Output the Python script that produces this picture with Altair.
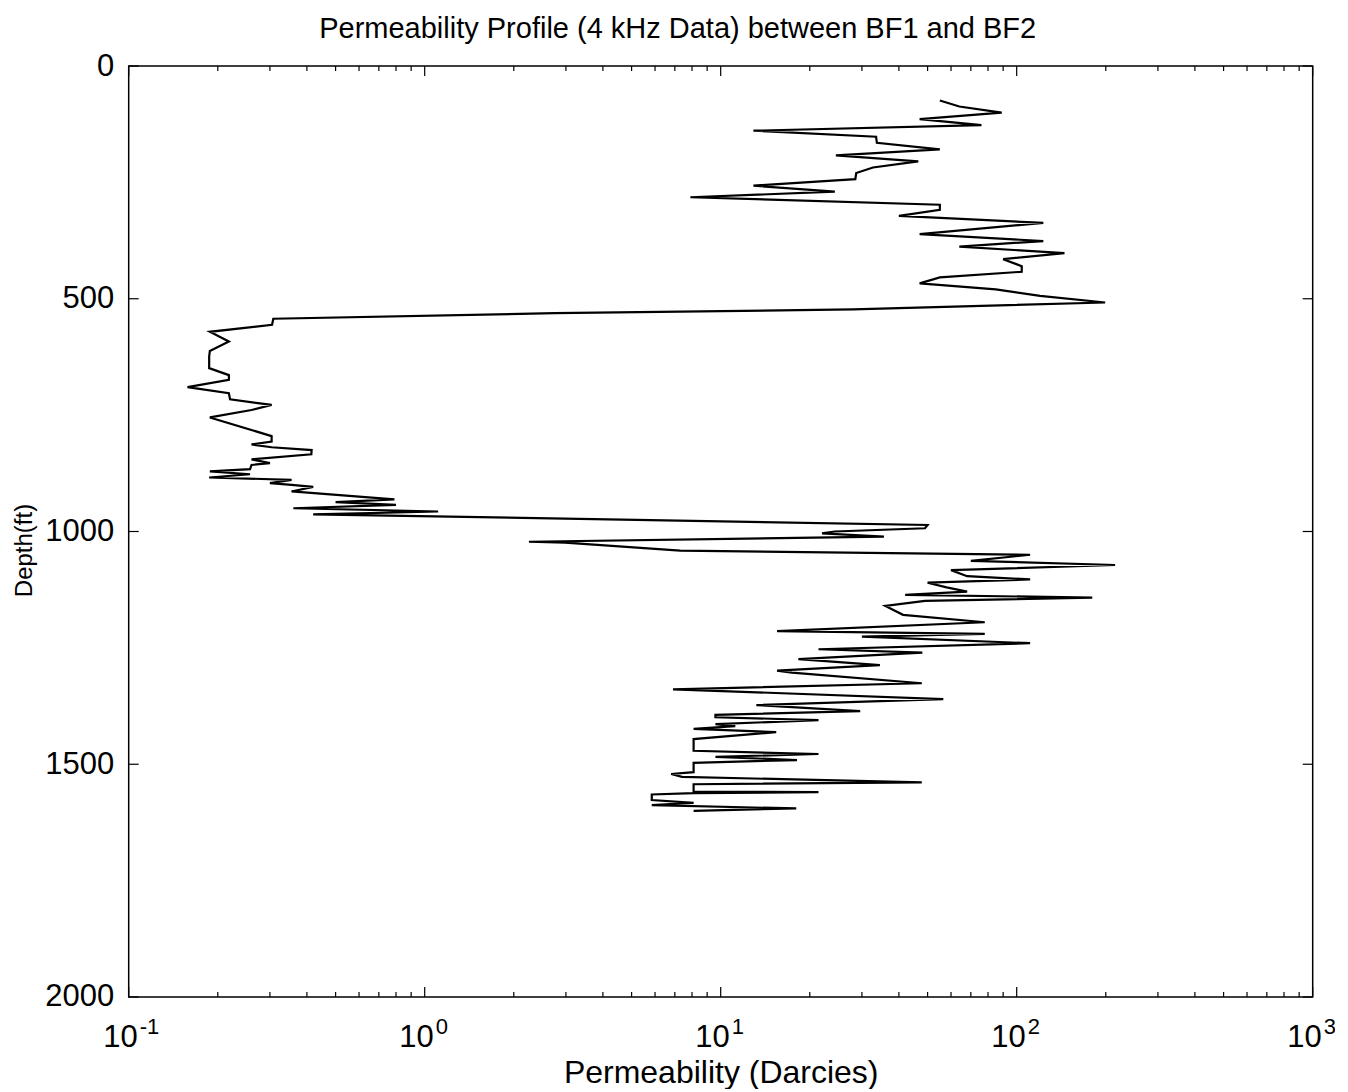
import altair as alt
import pandas as pd

# depth (ft) and permeability (Darcies), top to bottom
depth = [74, 87, 100, 114, 127, 139, 152, 165, 179, 192,
         205, 218, 230, 243, 257, 270, 282, 298, 309, 322,
         337, 361, 376, 388, 402, 415, 430, 442, 454, 467,
         480, 494, 508, 523, 531, 543, 556, 571, 592, 612,
         624, 649, 664, 674, 690, 703, 716, 728, 739, 755,
         795, 807, 813, 819, 825, 834, 845, 853, 857, 866,
         871, 877, 884, 889, 896, 900, 904, 914, 931, 937,
         943, 950, 957, 963, 986, 993, 1000, 1004, 1011, 1022,
         1024, 1041, 1050, 1063, 1072, 1083, 1096, 1103, 1110, 1120,
         1129, 1136, 1142, 1149, 1160, 1179, 1195, 1214, 1220, 1226,
         1240, 1253, 1260, 1274, 1287, 1299, 1303, 1326, 1339, 1360,
         1373, 1386, 1394, 1399, 1405, 1414, 1418, 1424, 1431, 1446,
         1471, 1478, 1484, 1491, 1497, 1517, 1521, 1527, 1539, 1543,
         1559, 1560, 1562, 1565, 1577, 1583, 1588, 1595, 1600]

perm = [55, 64, 89, 47, 76, 12.9, 33.5, 33.7, 55, 24.5,
        46.5, 32.7, 28.7, 28.5, 12.9, 24.3, 7.9, 55, 55, 40,
        123, 47, 123, 64, 145, 90, 104, 104, 55, 47,
        85, 120, 199, 28, 2.75, 0.308, 0.305, 0.188, 0.218, 0.188,
        0.187, 0.187, 0.218, 0.218, 0.158, 0.218, 0.220, 0.304, 0.26, 0.188,
        0.304, 0.304, 0.26, 0.304, 0.415, 0.414, 0.26, 0.30, 0.26, 0.257,
        0.188, 0.257, 0.187, 0.355, 0.30, 0.355, 0.42, 0.355, 0.79, 0.50,
        0.80, 0.36, 1.11, 0.42, 50, 49, 24.3, 22, 35.6, 2.25,
        2.98, 7.3, 111, 70, 215, 60, 68, 111, 50, 58,
        68, 42, 180, 49, 36, 41.3, 78, 15.5, 78, 30,
        111, 21.4, 48, 18.3, 34.5, 15.5, 17.4, 47.8, 6.9, 56.5,
        13.2, 29.6, 9.6, 9.6, 21.4, 9.6, 11.2, 8.1, 15.4, 8.1,
        8.1, 21.4, 9.6, 18.1, 8.1, 8.1, 6.8, 7.4, 47.8, 8.1,
        8.1, 21.4, 8.1, 5.85, 5.85, 8.1, 5.85, 18, 8.1]

decades = [0.1, 1, 10, 100, 1000]
exponents = ["-1", "0", "1", "2", "3"]
minor = [k * d for d in [0.1, 1, 10, 100] for k in range(2, 10)]
depth_ticks = [0, 500, 1000, 1500, 2000]
title_text = ["Permeability Profile (4 kHz Data) between BF1 and BF2"]

W, H = 1184, 931
FONT = "Liberation Sans"

df = pd.DataFrame({"depth": depth, "perm": perm, "i": range(len(depth))})
dec_df = pd.DataFrame({"v": decades, "e": exponents})
minor_df = pd.DataFrame({"v": minor})
yt_df = pd.DataFrame({"d": depth_ticks})

xs = alt.Scale(type="log", domain=[0.1, 1000], nice=False)
ys = alt.Scale(domain=[0, 2000], reverse=True, nice=False, zero=False)

line = alt.Chart(df).mark_line(color="black", strokeWidth=2.2).encode(
    x=alt.X("perm:Q", scale=xs, axis=alt.Axis(
        labels=False, ticks=False, domain=False, grid=False,
        title="Permeability (Darcies)", titleFont=FONT, titleFontSize=32,
        titleFontWeight="normal", titleColor="black",
        titleY=86, titleBaseline="alphabetic")),
    y=alt.Y("depth:Q", scale=ys, axis=alt.Axis(
        values=depth_ticks, format="d", ticks=False, domain=False, grid=False,
        labelFont=FONT, labelFontSize=31, labelColor="black", labelPadding=15,
        title="Depth(ft)", titleFont=FONT, titleFontSize=24,
        titleFontWeight="normal", titleColor="black", titleAngle=270,
        titleX=-97, titleY=484, titleAlign="center",
        titleBaseline="alphabetic")),
    order="i:Q",
)

def xticks(data, size):
    bot = alt.Chart(data).mark_rule(color="black", strokeWidth=1.2).encode(
        x=alt.X("v:Q", scale=xs), y=alt.value(H), y2=alt.value(H - size))
    top = alt.Chart(data).mark_rule(color="black", strokeWidth=1.2).encode(
        x=alt.X("v:Q", scale=xs), y=alt.value(0), y2=alt.value(size))
    return bot + top

yticks_l = alt.Chart(yt_df).mark_rule(color="black", strokeWidth=1.2).encode(
    y=alt.Y("d:Q", scale=ys), x=alt.value(0), x2=alt.value(10))
yticks_r = alt.Chart(yt_df).mark_rule(color="black", strokeWidth=1.2).encode(
    y=alt.Y("d:Q", scale=ys), x=alt.value(W), x2=alt.value(W - 10))

ten = alt.Chart(dec_df).mark_text(
    font=FONT, fontSize=31, color="black", align="right",
    baseline="alphabetic", dx=9).encode(
    x=alt.X("v:Q", scale=xs), y=alt.value(H + 50), text=alt.value("10"))
sup = alt.Chart(dec_df).mark_text(
    font=FONT, fontSize=22, color="black", align="left",
    baseline="alphabetic", dx=11).encode(
    x=alt.X("v:Q", scale=xs), y=alt.value(H + 37), text="e:N")

title = alt.Chart(pd.DataFrame({"t": title_text})).mark_text(
    font=FONT, fontSize=29, color="black", align="center",
    baseline="alphabetic").encode(
    x=alt.value(549), y=alt.value(-28), text="t:N")

chart = alt.layer(
    line, xticks(dec_df, 10), xticks(minor_df, 5), yticks_l, yticks_r,
    ten, sup, title
).properties(
    width=W, height=H,
    autosize=alt.AutoSizeParams(type="none"),
    padding={"left": 120.7, "top": 58, "right": 22, "bottom": 92},
).configure_view(stroke="black", strokeWidth=1.5)

chart.save("out.html", embed_options={"renderer": "svg", "actions": False})
